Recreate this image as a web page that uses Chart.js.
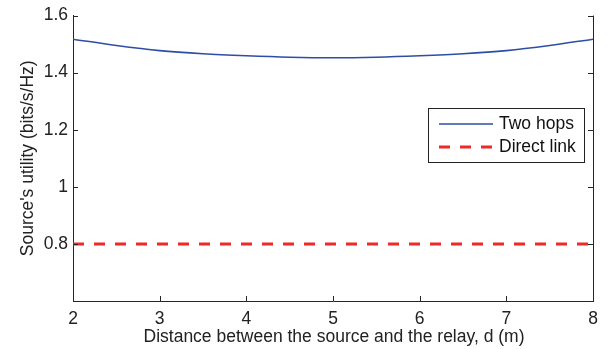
<!DOCTYPE html>
<html>
<head>
<meta charset="utf-8">
<script src="https://cdn.jsdelivr.net/npm/chart.js@4/dist/chart.umd.min.js"></script>
<style>
html,body{margin:0;padding:0;background:#fff;}
#wrap{width:610px;height:349px;}
</style>
</head>
<body>
<div id="wrap"><canvas id="c" width="610" height="349"></canvas></div>
<script>
const distances = [2, 2.5, 3, 3.5, 4, 4.5, 5, 5.5, 6, 6.5, 7, 7.5, 8];
const twoHops = [1.517, 1.495, 1.477, 1.466, 1.459, 1.454, 1.452, 1.454, 1.459, 1.466, 1.477, 1.495, 1.517];
const directLink = [0.8, 0.8];
const directX = [2, 8];
const seriesNames = ['Two hops', 'Direct link'];
const xTicks = [2, 3, 4, 5, 6, 7, 8];
const yTicks = [0.6, 0.8, 1, 1.2, 1.4, 1.6];
const yTickLabels = ['', '0.8', '1', '1.2', '1.4', '1.6'];
const xTitle = 'Distance between the source and the relay, d (m)';
const yTitle = "Source's utility (bits/s/Hz)";

const FONT = '"Liberation Sans", Arial, Helvetica, sans-serif';
const FS = 17.5;
const BLUE = '#2e4ea6';
const RED = '#f02828';

const framePlugin = {
  id: 'frame',
  afterDraw(chart) {
    const ctx = chart.ctx;
    const a = chart.chartArea;
    const xs = chart.scales.x, ys = chart.scales.y;
    ctx.save();
    ctx.strokeStyle = '#262626';
    ctx.lineWidth = 1;
    ctx.beginPath();
    // right border
    ctx.moveTo(a.right + 0.5, a.top);
    ctx.lineTo(a.right + 0.5, a.bottom + 1);
    // inward ticks
    xTicks.forEach(v => {
      const px = Math.round(xs.getPixelForValue(v)) + 0.5;
      ctx.moveTo(px, a.bottom);
      ctx.lineTo(px, a.bottom - 5);
    });
    yTicks.forEach(v => {
      const py = Math.round(ys.getPixelForValue(v)) + 0.5;
      ctx.moveTo(a.left, py);
      ctx.lineTo(a.left + 5, py);
      ctx.moveTo(a.right, py);
      ctx.lineTo(a.right - 5, py);
    });
    ctx.stroke();

    // axis titles
    ctx.fillStyle = '#222';
    ctx.font = FS + 'px ' + FONT;
    ctx.textAlign = 'center';
    ctx.textBaseline = 'alphabetic';
    ctx.fillText(xTitle, (a.left + a.right) / 2 + 1, 342);

    ctx.save();
    ctx.translate(33, (a.top + a.bottom) / 2);
    ctx.rotate(-Math.PI / 2);
    ctx.fillText(yTitle, 0, 0);
    ctx.restore();

    // legend
    const bx = 428.5, by = 108.5, bw = 156, bh = 54;
    ctx.fillStyle = '#fff';
    ctx.fillRect(bx, by, bw, bh);
    ctx.strokeStyle = '#222';
    ctx.lineWidth = 1;
    ctx.strokeRect(bx, by, bw, bh);
    const rows = [
      {y: 124, color: BLUE, w: 1.5, dash: []},
      {y: 147, color: RED, w: 3, dash: [11, 10]}
    ];
    rows.forEach((r, i) => {
      ctx.beginPath();
      ctx.setLineDash(r.dash);
      ctx.strokeStyle = r.color;
      ctx.lineWidth = r.w;
      ctx.moveTo(439, r.y);
      ctx.lineTo(493, r.y);
      ctx.stroke();
      ctx.setLineDash([]);
      ctx.fillStyle = '#111';
      ctx.font = FS + 'px ' + FONT;
      ctx.textBaseline = 'middle';
      ctx.textAlign = 'left';
      ctx.fillText(seriesNames[i], 499, r.y);
    });
    ctx.restore();
  }
};

new Chart(document.getElementById('c'), {
  type: 'line',
  data: {
    datasets: [
      {
        label: seriesNames[0],
        data: distances.map((d, i) => ({x: d, y: twoHops[i]})),
        borderColor: BLUE,
        borderWidth: 1.6,
        pointRadius: 0,
        cubicInterpolationMode: 'monotone',
        fill: false
      },
      {
        label: seriesNames[1],
        data: directX.map((d, i) => ({x: d, y: directLink[i]})),
        borderColor: RED,
        borderWidth: 3,
        borderDash: [11, 10],
        pointRadius: 0,
        fill: false
      }
    ]
  },
  options: {
    responsive: false,
    animation: false,
    devicePixelRatio: 1,
    layout: {padding: {top: 15, right: 17, left: 0, bottom: 0}},
    plugins: {legend: {display: false}, tooltip: {enabled: false}},
    scales: {
      x: {
        type: 'linear',
        min: 2, max: 8,
        afterBuildTicks(s) { s.ticks = xTicks.map(v => ({value: v})); },
        afterFit(s) { s.height = 48; },
        grid: {display: true, drawOnChartArea: false, drawTicks: false, color: '#262626'},
        border: {display: true, color: '#262626', width: 1},
        ticks: {color: '#222', font: {family: FONT, size: FS}, padding: 8, maxRotation: 0,
          callback: v => String(v)},
        title: {display: false}
      },
      y: {
        type: 'linear',
        min: 0.6, max: 1.6,
        afterBuildTicks(s) { s.ticks = yTicks.map(v => ({value: v})); },
        afterFit(s) { s.width = 73; },
        grid: {display: true, drawOnChartArea: false, drawTicks: false, color: '#262626'},
        border: {display: true, color: '#262626', width: 1},
        ticks: {color: '#222', font: {family: FONT, size: FS}, padding: 5,
          callback: (v) => { const i = yTicks.findIndex(t => Math.abs(t - v) < 1e-9); return i >= 0 ? yTickLabels[i] : ''; }},
        title: {display: false}
      }
    }
  },
  plugins: [framePlugin]
});
</script>
</body>
</html>
